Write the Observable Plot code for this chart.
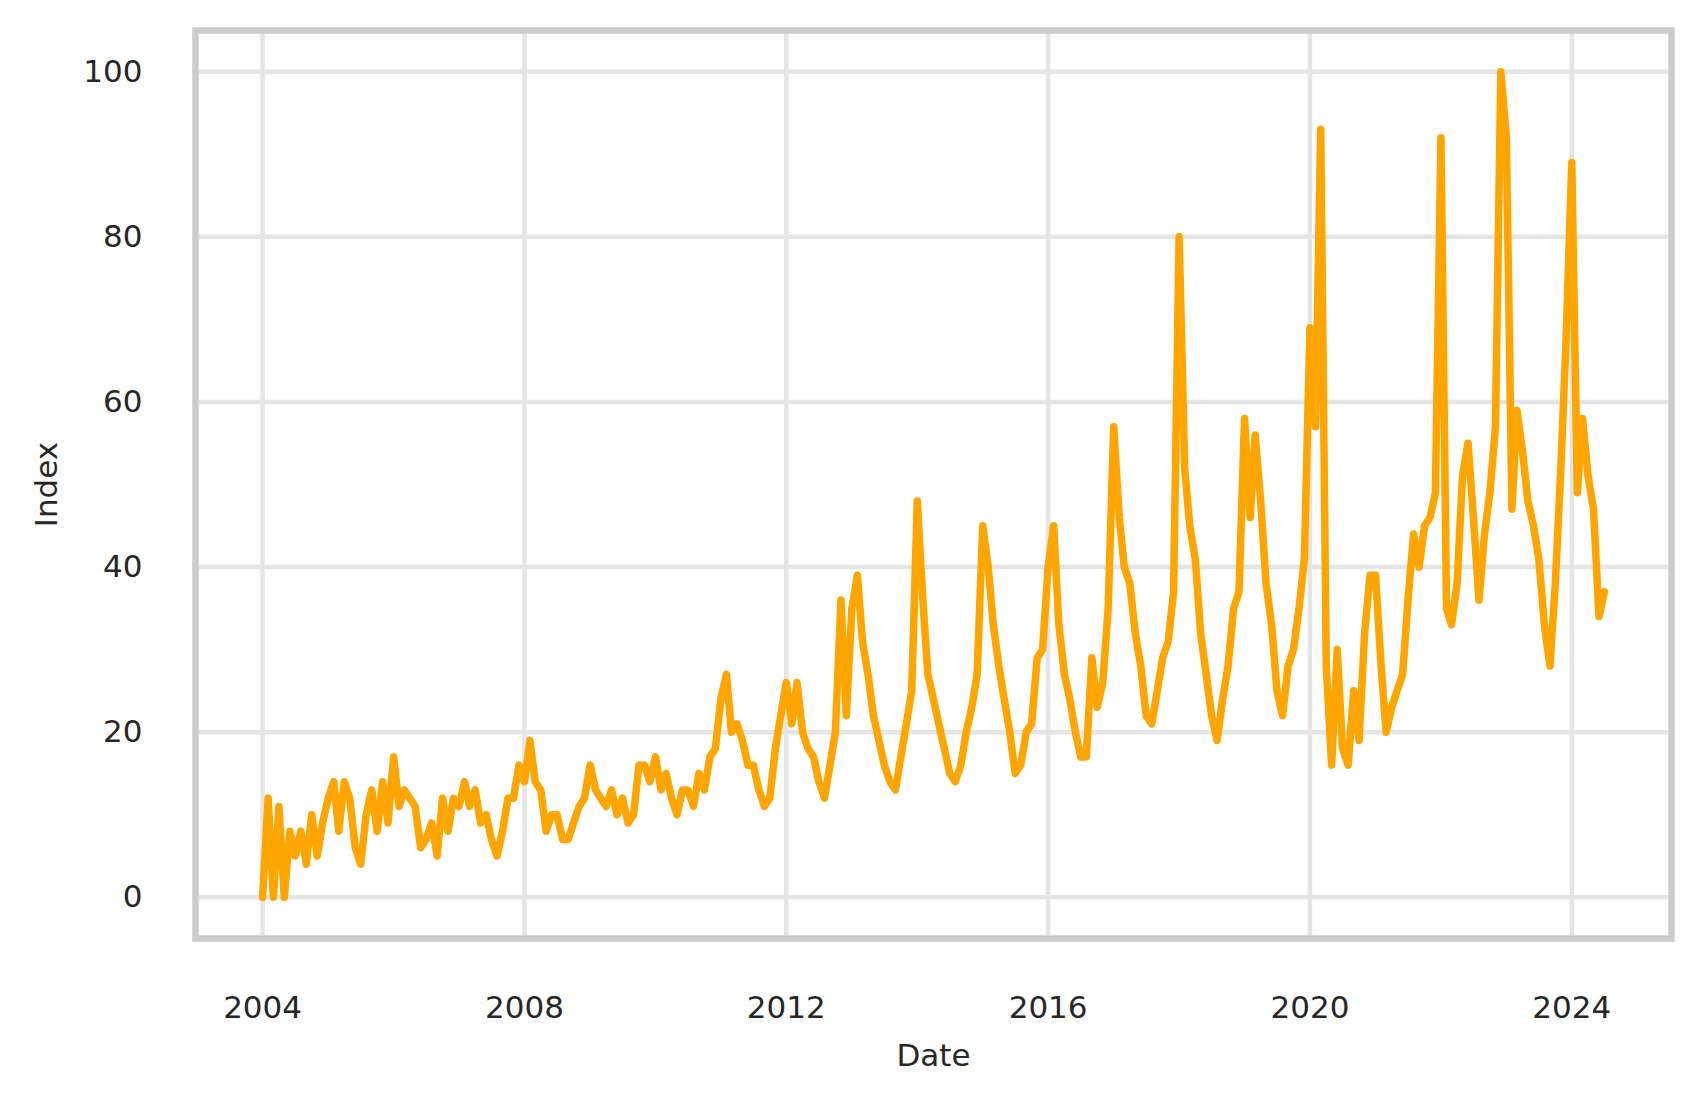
<!DOCTYPE html>
<html><head><meta charset="utf-8">
<script src="https://cdn.jsdelivr.net/npm/d3@7"></script>
<script src="https://cdn.jsdelivr.net/npm/@observablehq/plot@0.6"></script>
<style>html,body{margin:0;padding:0;background:#fff}</style>
</head><body><div id="chart"></div>
<script>
// Monthly index values (Jan 2004 – Jul 2024)
const index2004 = [0, 12, 0, 11, 0, 8, 5, 8, 4, 10, 5, 9];
const index2005 = [12, 14, 8, 14, 12, 6, 4, 10, 13, 8, 14, 9];
const index2006 = [17, 11, 13, 12, 11, 6, 7, 9, 5, 12, 8, 12];
const index2007 = [11, 14, 11, 13, 9, 10, 7, 5, 8, 12, 12, 16];
const index2008 = [14, 19, 14, 13, 8, 10, 10, 7, 7, 9, 11, 12];
const index2009 = [16, 13, 12, 11, 13, 10, 12, 9, 10, 16, 16, 14];
const index2010 = [17, 13, 15, 12, 10, 13, 13, 11, 15, 13, 17, 18];
const index2011 = [24, 27, 20, 21, 19, 16, 16, 13, 11, 12, 18, 22];
const index2012 = [26, 21, 26, 20, 18, 17, 14, 12, 16, 20, 36, 22];
const index2013 = [35, 39, 31, 27, 22, 19, 16, 14, 13, 17, 21, 25];
const index2014 = [48, 36, 27, 24, 21, 18, 15, 14, 16, 20, 23, 27];
const index2015 = [45, 40, 33, 28, 24, 20, 15, 16, 20, 21, 29, 30];
const index2016 = [40, 45, 33, 27, 24, 20, 17, 17, 29, 23, 26, 35];
const index2017 = [57, 46, 40, 38, 32, 28, 22, 21, 25, 29, 31, 37];
const index2018 = [80, 52, 45, 41, 32, 27, 22, 19, 24, 28, 35, 37];
const index2019 = [58, 46, 56, 48, 38, 33, 25, 22, 28, 30, 35, 41];
const index2020 = [69, 57, 93, 28, 16, 30, 18, 16, 25, 19, 32, 39];
const index2021 = [39, 28, 20, 23, 25, 27, 36, 44, 40, 45, 46, 49];
const index2022 = [92, 35, 33, 38, 51, 55, 46, 36, 44, 49, 57, 100];
const index2023 = [92, 47, 59, 54, 48, 45, 41, 33, 28, 38, 52, 68];
const index2024 = [89, 49, 58, 51, 47, 34, 37];

const firstYear = 2004;
const yearSeries = [index2004, index2005, index2006, index2007, index2008, index2009, index2010,
  index2011, index2012, index2013, index2014, index2015, index2016, index2017, index2018,
  index2019, index2020, index2021, index2022, index2023, index2024];

const xTickYears = [2004, 2008, 2012, 2016, 2020, 2024];
const yTicks = [0, 20, 40, 60, 80, 100];
const xLabel = "Date";
const yLabel = "Index";

const data = yearSeries.flatMap((arr, i) =>
  arr.map((v, j) => ({date: new Date(Date.UTC(firstYear + i, j, 1)), value: v})));

const t0 = +data[0].date, t1 = +data[data.length - 1].date;
const pad = (t1 - t0) * 0.05;
const xDomain = [new Date(t0 - pad), new Date(t1 + pad)];
const xTickDates = xTickYears.map(y => new Date(Date.UTC(y, 0, 1)));

const textColor = "#262626";
const fs = 31;

const chart = Plot.plot({
  width: 1701,
  height: 1104,
  marginLeft: 195,
  marginRight: 30,
  marginTop: 30,
  marginBottom: 166,
  style: {fontFamily: "'DejaVu Sans', sans-serif", fontSize: fs + "px", color: textColor, background: "#fff"},
  x: {type: "utc", domain: xDomain},
  y: {domain: [-5, 105]},
  marks: [
    Plot.ruleX(xTickDates, {stroke: "#e5e5e5", strokeWidth: 4.5}),
    Plot.ruleY(yTicks, {stroke: "#e5e5e5", strokeWidth: 4.5}),
    Plot.line(data, {x: "date", y: "value", stroke: "#FFA500", strokeWidth: 7.5,
      strokeLinejoin: "round", strokeLinecap: "round"}),
    Plot.frame({stroke: "#cccccc", strokeWidth: 6.5}),
    Plot.axisX(xTickDates, {tickSize: 0, tickPadding: 57, label: null,
      tickFormat: d => String(d.getUTCFullYear()), fontSize: fs, fill: textColor}),
    Plot.axisY(yTicks, {tickSize: 0, tickPadding: 53, label: null, fontSize: fs, fill: textColor}),
    Plot.text([xLabel], {frameAnchor: "bottom", dy: 127, fontSize: fs, fill: textColor}),
    Plot.text([yLabel], {frameAnchor: "left", dx: -148, rotate: -90, textAnchor: "middle",
      fontSize: fs, fill: textColor})
  ]
});
document.getElementById("chart").appendChild(chart);
</script>
</body></html>
